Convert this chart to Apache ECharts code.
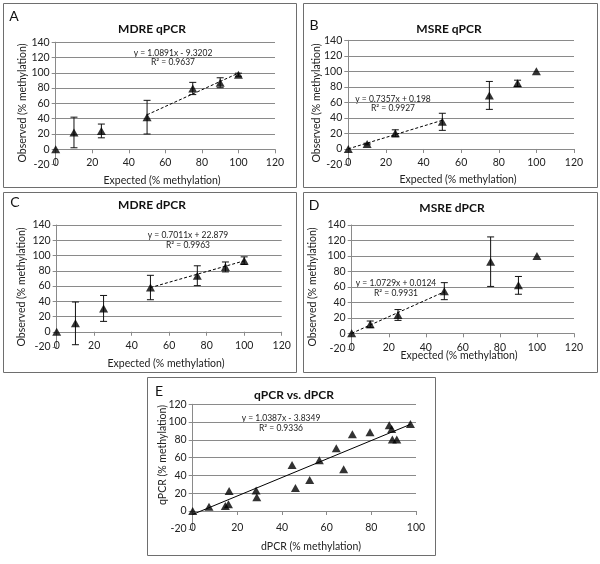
<!DOCTYPE html>
<html><head><meta charset="utf-8">
<script src="https://cdn.jsdelivr.net/npm/echarts@6/dist/echarts.min.js"></script>
<style>html,body{margin:0;padding:0;background:#fff}#c{width:600px;height:564px}</style>
</head><body><div id="c"></div>
<script>
// ---- data ----
const expected = [0, 10, 25, 50, 75, 90, 100];
const mdreQpcr = [0, 22, 24, 42, 79.5, 87, 97.5];
const mdreQpcrErr = [0, 20, 9, 22, 8, 6.5, 2];
const msreQpcr = [0, 6.4, 20.2, 35, 69, 84.6, 100];
const msreQpcrErr = [0, 1, 4.5, 11, 18, 4, 0];
const mdreDpcr = [0, 11, 30.6, 58, 73.5, 85, 93.2];
const mdreDpcrErr = [0, 28, 17, 16, 13, 6.5, 5];
const msreDpcr = [0, 11.6, 23.7, 54.5, 92.6, 62, 100];
const msreDpcrErr = [0, 4.3, 7, 11, 32, 11.5, 0];
const dpcrX = [0, 7.3, 14.6, 16, 16.3, 28.4, 28.7, 44.5, 46, 52.4, 56.7, 64.3, 67.6, 71.5, 79.4, 88, 89.1, 89.4, 91.4, 97.5];
const qpcrY = [0, 4.9, 5.6, 7.5, 22.5, 23.2, 15.4, 51.7, 25.9, 34.9, 57, 70.5, 46.9, 86.2, 88.7, 96.5, 92.2, 80.4, 80.4, 97.8];
// trendlines: [slope, intercept, xFrom, xTo]
const trendA = [1.0891, -9.3202, 50, 100];
const trendB = [0.7357, 0.198, 0, 50];
const trendC = [0.7011, 22.879, 50, 100];
const trendD = [1.0729, 0.0124, 0, 50];
const trendE = [1.0387, -3.8349, 0, 97.5];
const eqTexts = [
  ['y = 1.0891x - 9.3202', 'R\u00B2 = 0.9637'],
  ['y = 0.7357x + 0.198', 'R\u00B2 = 0.9927'],
  ['y = 0.7011x + 22.879', 'R\u00B2 = 0.9963'],
  ['y = 1.0729x + 0.0124', 'R\u00B2 = 0.9931'],
  ['y = 1.0387x - 3.8349', 'R\u00B2 = 0.9336']
];
const titles = ['MDRE qPCR', 'MSRE qPCR', 'MDRE dPCR', 'MSRE dPCR', 'qPCR vs. dPCR'];
const letters = ['A', 'B', 'C', 'D', 'E'];
const xNames = ['Expected (% methylation)', 'Expected (% methylation)', 'Expected (% methylation)', 'Expected (% methylation)', 'dPCR (% methylation)'];
const yNames = ['Observed (% methylation)', 'Observed (% methylation)', 'Observed (% methylation)', 'Observed (% methylation)', 'qPCR (% methylation)'];
const xTicksABCD = [0, 120, 20];   // min, max, interval
const yTicksABCD = [-20, 140, 20];
const xTicksE = [0, 100, 20];
const yTicksE = [-20, 120, 20];

// ---- layout ----
const FONT = 'Lato';
const GRID = '#8a8a8a';
const grids = [
  {left: 55.7, top: 42.2, width: 219.3, height: 122.4},
  {left: 348.3, top: 40.3, width: 225.7, height: 124.2},
  {left: 56.7, top: 225, width: 225, height: 122},
  {left: 351.7, top: 225, width: 222.3, height: 123.8},
  {left: 192.7, top: 404.3, width: 223.3, height: 124.5}
];
const boxes = [[3, 3, 293, 184], [303, 3, 294, 184], [3, 192, 293, 180], [303, 192, 294, 180], [147, 377, 288, 178]];
const letterPos = [[14, 16], [314, 25], [15, 202], [314, 205], [159, 391]];
const titlePos = [[152, 29], [449, 29], [152, 205], [452, 208], [294, 395]];
const eqPos = [[173, 53, 62], [393, 99, 108], [188, 235, 245], [396, 283, 293], [281, 418, 428]];
const xNamePos = [[162, 181], [458, 180], [166, 364], [459, 356], [311, 547]];
const yNamePos = [[23, 103], [317, 103], [22, 287], [313, 287], [163, 455]];

function mkX(t) {
  return {type: 'value', min: t[0], max: t[1], interval: t[2],
    axisLine: {show: true, onZero: true, lineStyle: {color: GRID, width: 1}},
    axisTick: {show: true, length: 4, lineStyle: {color: GRID}},
    axisLabel: {fontFamily: FONT, fontSize: 10.5, color: '#222', margin: -7},
    splitLine: {show: false}};
}
function mkY(t) {
  return {type: 'value', min: t[0], max: t[1], interval: t[2],
    axisLine: {show: true, onZero: false, lineStyle: {color: GRID, width: 1}},
    axisTick: {show: true, length: 4, lineStyle: {color: GRID}},
    axisLabel: {fontFamily: FONT, fontSize: 10.5, color: '#222', margin: 6},
    splitLine: {show: true, showMinLine: false, lineStyle: {color: GRID, width: 1}}};
}

function errSeries(idx, xs, ys, es) {
  return {type: 'custom', xAxisIndex: idx, yAxisIndex: idx, z: 3,
    data: xs.map((x, i) => [x, ys[i], es[i]]),
    renderItem: function (params, api) {
      const x = api.value(0), y = api.value(1), e = api.value(2);
      if (!e) return null;
      const t = api.coord([x, y + e]), b = api.coord([x, y - e]);
      const w = 3.5;
      const st = {stroke: '#111', lineWidth: 1};
      return {type: 'group', children: [
        {type: 'line', shape: {x1: t[0], y1: t[1], x2: b[0], y2: b[1]}, style: st},
        {type: 'line', shape: {x1: t[0] - w, y1: t[1], x2: t[0] + w, y2: t[1]}, style: st},
        {type: 'line', shape: {x1: b[0] - w, y1: b[1], x2: b[0] + w, y2: b[1]}, style: st}
      ]};
    }};
}
function ptSeries(idx, xs, ys) {
  return {type: 'scatter', xAxisIndex: idx, yAxisIndex: idx, z: 4,
    symbol: 'triangle', symbolSize: [9, 8], itemStyle: {color: '#000'},
    data: xs.map((x, i) => [x, ys[i]])};
}
function trendSeries(idx, tr, dashed) {
  const f = x => tr[0] * x + tr[1];
  return {type: 'line', xAxisIndex: idx, yAxisIndex: idx, z: 2, symbol: 'none', silent: true,
    lineStyle: {color: '#000', width: 1, type: dashed ? [3, 2] : 'solid'},
    data: [[tr[2], f(tr[2])], [tr[3], f(tr[3])]]};
}

const graphic = [];
boxes.forEach(b => graphic.push({type: 'rect', shape: {x: b[0] + 0.5, y: b[1] + 0.5, width: b[2], height: b[3]},
  style: {fill: 'none', stroke: '#6e6e6e', lineWidth: 1}, z: 0}));
letters.forEach((l, i) => graphic.push({type: 'text', x: letterPos[i][0], y: letterPos[i][1],
  style: {text: l, fontFamily: FONT, fontSize: 14, fill: '#111', textAlign: 'center', textVerticalAlign: 'middle'}}));
titles.forEach((t, i) => graphic.push({type: 'text', x: titlePos[i][0], y: titlePos[i][1],
  style: {text: t, fontFamily: FONT, fontSize: 12, fontWeight: 'bold', fill: '#111', textAlign: 'center', textVerticalAlign: 'middle'}}));
eqTexts.forEach((e, i) => {
  graphic.push({type: 'text', x: eqPos[i][0], y: eqPos[i][1],
    style: {text: e[0], fontFamily: FONT, fontSize: 8.5, fill: '#222', textAlign: 'center', textVerticalAlign: 'middle'}});
  graphic.push({type: 'text', x: eqPos[i][0], y: eqPos[i][2],
    style: {text: e[1], fontFamily: FONT, fontSize: 8.5, fill: '#222', textAlign: 'center', textVerticalAlign: 'middle'}});
});
xNames.forEach((t, i) => graphic.push({type: 'text', x: xNamePos[i][0], y: xNamePos[i][1],
  style: {text: t, fontFamily: FONT, fontSize: 10.5, fill: '#222', textAlign: 'center', textVerticalAlign: 'middle'}}));
yNames.forEach((t, i) => graphic.push({type: 'text', x: yNamePos[i][0], y: yNamePos[i][1], rotation: Math.PI / 2,
  style: {text: t, fontFamily: FONT, fontSize: 10.5, fill: '#222', textAlign: 'center', textVerticalAlign: 'middle'}}));

const option = {
  animation: false,
  backgroundColor: '#fff',
  grid: grids.map(g => Object.assign({containLabel: false}, g)),
  xAxis: [mkX(xTicksABCD), mkX(xTicksABCD), mkX(xTicksABCD), mkX(xTicksABCD), mkX(xTicksE)].map((a, i) => Object.assign(a, {gridIndex: i})),
  yAxis: [mkY(yTicksABCD), mkY(yTicksABCD), mkY(yTicksABCD), mkY(yTicksABCD), mkY(yTicksE)].map((a, i) => Object.assign(a, {gridIndex: i})),
  series: [
    trendSeries(0, trendA, true), errSeries(0, expected, mdreQpcr, mdreQpcrErr), ptSeries(0, expected, mdreQpcr),
    trendSeries(1, trendB, true), errSeries(1, expected, msreQpcr, msreQpcrErr), ptSeries(1, expected, msreQpcr),
    trendSeries(2, trendC, true), errSeries(2, expected, mdreDpcr, mdreDpcrErr), ptSeries(2, expected, mdreDpcr),
    trendSeries(3, trendD, true), errSeries(3, expected, msreDpcr, msreDpcrErr), ptSeries(3, expected, msreDpcr),
    trendSeries(4, trendE, false), ptSeries(4, dpcrX, qpcrY)
  ],
  graphic: graphic
};
const chart = echarts.init(document.getElementById('c'), null, {renderer: 'canvas'});
chart.setOption(option);
</script>
</body></html>
